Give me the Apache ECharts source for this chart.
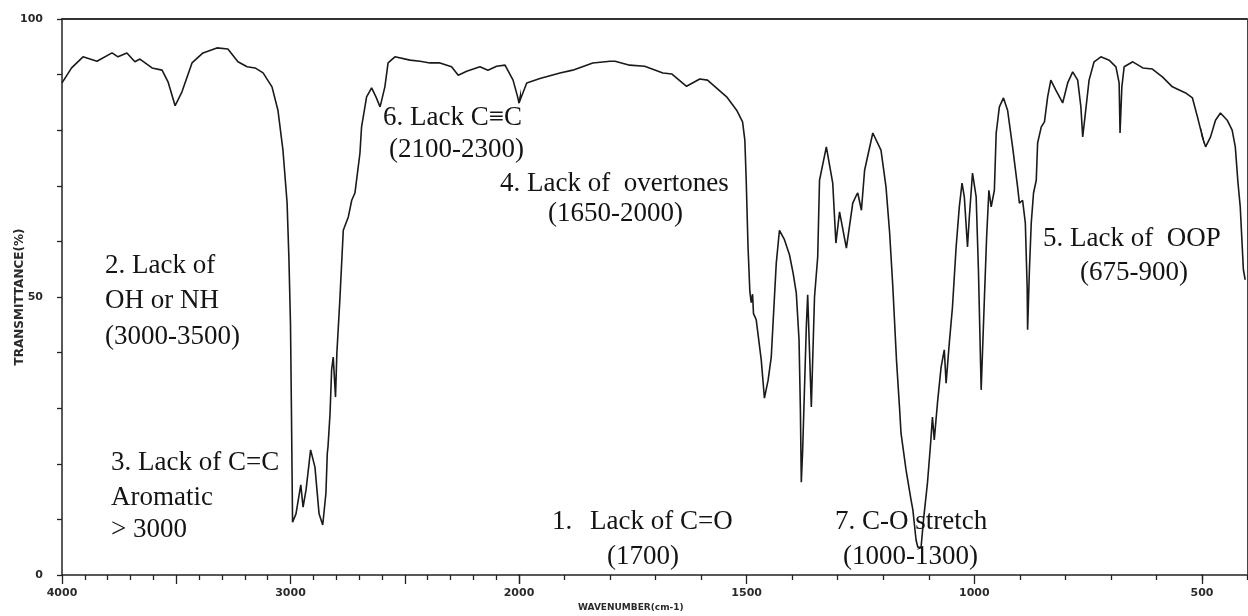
<!DOCTYPE html>
<html><head><meta charset="utf-8">
<script src="https://cdn.jsdelivr.net/npm/echarts@6/dist/echarts.min.js"></script>
<style>html,body{margin:0;padding:0;background:#fff}#c{width:1248px;height:616px}</style>
</head><body><div id="c"></div>
<script>
// ---- DATA ----
const wavenumbers = [4000,3958,3908,3847,3781,3755,3716,3681,3659,3606,3562,3536,3505,3475,3431,3383,3322,3274,3230,3190,3155,3120,3081,3055,3033,3015,3007,3000,2996,2991,2976,2955,2945,2932,2912,2893,2875,2859,2845,2839,2836,2827,2820,2813,2808,2803,2797,2791,2784,2769,2747,2732,2718,2696,2689,2667,2645,2626,2608,2587,2573,2543,2477,2433,2390,2346,2295,2266,2229,2171,2136,2098,2061,2026,2006,2000,1983,1954,1910,1882,1838,1800,1789,1757,1724,1684,1664,1632,1603,1586,1544,1522,1509,1504,1501,1497,1493,1490,1487,1485,1479,1468,1461,1453,1446,1435,1428,1417,1406,1398,1391,1385,1382,1380,1377,1369,1366,1358,1351,1344,1340,1325,1311,1304,1296,1281,1267,1259,1256,1248,1241,1223,1205,1194,1186,1179,1171,1164,1161,1150,1139,1135,1128,1124,1117,1111,1103,1096,1092,1088,1081,1073,1066,1062,1055,1048,1040,1033,1027,1022,1015,1011,1004,996,991,985,978,973,968,963,956,952,945,936,927,916,905,901,894,888,884,883,879,875,870,864,861,853,846,839,832,821,806,795,784,773,766,762,757,748,737,722,704,689,682,680,676,671,652,630,609,587,565,536,521,510,499,492,481,470,459,444,433,426,420,415,408,404];
const transmittance = [88.5,91.2,93.2,92.4,93.9,93.2,93.9,92.3,92.8,91.2,90.8,88.7,84.4,86.9,92.1,93.9,94.8,94.6,92.3,91.4,91.2,90.3,87.8,83.6,76.4,67,57,45,30,9.5,11,16.2,12.2,15.3,22.5,19.4,11,9.0,14.7,21.9,23,29,36.9,39.2,39.5,32,40,40,49.5,62,64.4,67.4,68.7,75.9,80.6,86,87.6,86,84.2,87.8,92.1,93.2,92.6,92.4,92.1,92.1,91.4,89.9,90.6,91.4,90.8,91.5,91.7,89,86,84.9,88.5,89.3,90.3,90.8,92.1,92.4,92.4,91.7,91.5,90.3,90.1,87.9,89.2,89,86,83.6,81.5,78.2,71,59,51,49,50.5,47,45.9,38.7,31.8,35,39.2,56.1,62,60.3,57.6,54.3,50.7,42.3,29.7,16.7,22.5,44.6,50.4,30.2,50,57.2,71,77,70.5,59.7,65.3,58.8,66.9,68.3,68.7,65.6,72.8,79.5,76.4,69.8,61.5,51.8,38.7,29.7,25.5,18.9,13.5,11.7,6.3,5,5,10.4,16.5,23.7,28.4,24.3,30.9,37.4,40.5,34.5,41.7,48.2,59,66.2,70.5,68,59,64.4,72.3,68,54.9,33.3,49.5,60.8,69.2,66.2,69.2,79.5,84.2,85.8,83.6,77,69.8,66.9,67.4,63.3,51.8,44.1,54.9,63.3,68.7,71,77.7,80.6,81.5,86,89,87.2,84.9,88.5,90.5,89,84.2,78.8,82.4,89,92.3,93.2,92.6,91.4,88.5,79.5,87.8,91.4,92.3,91.2,91,89.6,87.8,86.7,85.8,82.4,78.8,77,78.8,81.8,83.1,81.8,80,77,70.5,66.2,54.9,53.1];
const xTickLabels = [4000,3000,2000,1500,1000,500];
const yTickLabels = [0,50,100];
const yAxisTitle = 'TRANSMITTANCE(%)';
const xAxisTitle = 'WAVENUMBER(cm-1)';
const annotationLines = ['2. Lack of','OH or NH','(3000-3500)','3. Lack of C=C','Aromatic','> 3000','6. Lack C\u2261C','(2100-2300)','4. Lack of  overtones','(1650-2000)','5. Lack of  OOP','(675-900)','1.','Lack of C=O','(1700)','7. C-O stretch','(1000-1300)'];

// ---- LAYOUT ----
const annotationPos = [[105,275],[105,310],[105,346],[111,472],[111,507],[111,539],[383,127],[389,159],[500,193],[548,223],[1043,248],[1080,282],[552,531],[590,531],[607,566],[835,531],[843,566]];
const spectrum = wavenumbers.map((w, i) => [w, transmittance[i]]);
const ink = '#1a1a1a';
const axisLineStyle = {color: '#222', width: 1.5};
const tickStyle = {color: '#222', width: 1.3};
const tickFont = {color: '#2a2a2a', fontSize: 11, fontWeight: 'bold', fontFamily: 'DejaVu Sans'};
const gridTop = 19, gridBottom = 41;
// three panels: 4000-2000, 2000-500, 500-400 (scale doubles below 2000)
const panels = [
  {min: 2000, max: 4000, grid: {left: 62, width: 457}},
  {min: 500, max: 2000, grid: {left: 519, width: 683}},
  {min: 400, max: 500, grid: {left: 1202, width: 45}}
];
const labelShown = {0: v => xTickLabels.includes(v) ? String(v) : '',
                    1: v => (xTickLabels.includes(v) && v !== 2000) ? String(v) : '',
                    2: v => ''};

const grids = [], xAxes = [], yAxes = [], series = [];
panels.forEach((p, k) => {
  grids.push(Object.assign({top: gridTop, bottom: gridBottom}, p.grid));
  const last = k === panels.length - 1;
  xAxes.push({type: 'value', gridIndex: k, min: p.min, max: p.max, inverse: true, position: 'bottom',
    interval: last ? 100 : 500,
    splitLine: {show: false},
    axisLine: {show: true, onZero: false, lineStyle: axisLineStyle},
    axisTick: {show: true, length: last ? 5 : 9, lineStyle: tickStyle},
    minorTick: {show: !last, splitNumber: 5, length: 5, lineStyle: tickStyle},
    axisLabel: Object.assign({show: !last, margin: 13, formatter: labelShown[k], showMinLabel: true, showMaxLabel: true}, tickFont)});
  xAxes.push({type: 'value', gridIndex: k, min: p.min, max: p.max, inverse: true, position: 'top',
    splitLine: {show: false}, axisTick: {show: false}, axisLabel: {show: false},
    axisLine: {show: true, onZero: false, lineStyle: {color: '#333', width: 2}}});
  if (k === 0) {
    yAxes.push({type: 'value', gridIndex: k, min: 0, max: 100, interval: 10, position: 'left',
      splitLine: {show: false},
      axisLine: {show: true, lineStyle: axisLineStyle},
      axisTick: {show: true, length: 5, lineStyle: tickStyle},
      axisLabel: Object.assign({margin: 19, formatter: v => yTickLabels.includes(v) ? String(v) : ''}, tickFont),
      name: yAxisTitle, nameLocation: 'middle', nameGap: 36, nameRotate: 90, nameMoveOverlap: false,
      nameTextStyle: {color: '#2a2a2a', fontSize: 12, fontWeight: 'bold', fontFamily: 'DejaVu Sans'}});
  } else {
    yAxes.push({type: 'value', gridIndex: k, min: 0, max: 100, position: 'right',
      splitLine: {show: false}, axisTick: {show: false}, axisLabel: {show: false},
      axisLine: {show: last, onZero: false, lineStyle: {color: '#444', width: 1}}});
  }
  series.push({type: 'line', xAxisIndex: 2 * k, yAxisIndex: k, data: spectrum, clip: true,
    showSymbol: false, symbol: 'none', lineStyle: {color: ink, width: 1.6}, silent: true});
});

const chart = echarts.init(document.getElementById('c'), null, {renderer: 'canvas'});
chart.setOption({
  animation: false,
  backgroundColor: '#fff',
  grid: grids, xAxis: xAxes, yAxis: yAxes, series: series,
  graphic: annotationLines.map((t, i) => ({
    type: 'text', x: annotationPos[i][0], y: annotationPos[i][1] - 9, z: 100,
    style: {text: t, fill: '#141414', font: '27px "Liberation Serif"', verticalAlign: 'middle', align: 'left'}
  })).concat([{
    type: 'text', x: 578, y: 608, z: 100,
    style: {text: xAxisTitle, fill: '#2a2a2a', font: 'bold 9px "DejaVu Sans"', verticalAlign: 'middle', align: 'left'}
  }])
});
</script></body></html>
